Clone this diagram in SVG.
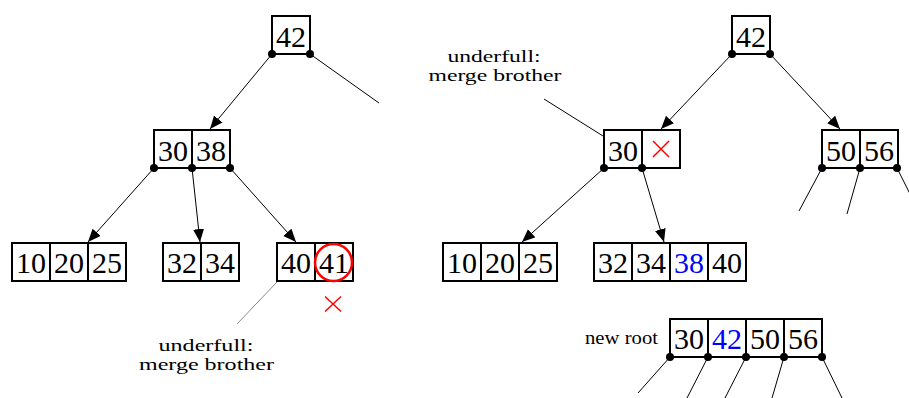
<svg xmlns="http://www.w3.org/2000/svg" width="909" height="398" viewBox="0 0 909 398">
<style>
.cell{fill:#fff;stroke:#000;stroke-width:2}
.edge{stroke:#000;stroke-width:1;fill:none}
.arr{marker-end:url(#ah)}
.dot{fill:#000}
.red{stroke:#ff0000;stroke-width:1.5;fill:none}
</style>
<defs>
<marker id="ah" markerUnits="userSpaceOnUse" markerWidth="14" markerHeight="12" refX="13" refY="5.5" orient="auto">
<path d="M0,0 L13,5.5 L0,11 Z" fill="#000"/>
</marker>
</defs>
<rect width="909" height="398" fill="#fff"/>

<g id="connectors">
<line class="edge arr" x1="272" y1="54" x2="210" y2="129"/>
<line class="edge" x1="310" y1="54" x2="379" y2="103"/>
<line class="edge arr" x1="154" y1="168" x2="88" y2="242"/>
<line class="edge arr" x1="192" y1="168" x2="200" y2="242"/>
<line class="edge arr" x1="230" y1="168" x2="296" y2="242"/>
<line x1="277" y1="282" x2="237" y2="324" stroke="#888" stroke-width="1"/>
<line class="edge arr" x1="732" y1="54" x2="661" y2="129"/>
<line class="edge arr" x1="770" y1="54" x2="840" y2="129"/>
<line class="edge arr" x1="604" y1="168" x2="522" y2="242"/>
<line class="edge arr" x1="642" y1="168" x2="664" y2="242"/>
<line class="edge" x1="544" y1="99" x2="603" y2="136"/>
<line class="edge" x1="822" y1="168" x2="799" y2="211"/>
<line class="edge" x1="860" y1="168" x2="847" y2="214"/>
<line class="edge" x1="897" y1="168" x2="912" y2="198"/>
<line class="edge" x1="670" y1="357" x2="638" y2="393"/>
<line class="edge" x1="708" y1="357" x2="687" y2="398"/>
<line class="edge" x1="746" y1="357" x2="725" y2="398"/>
<line class="edge" x1="784" y1="357" x2="772" y2="398"/>
<line class="edge" x1="822" y1="357" x2="842" y2="398"/>
</g>

<g id="L-root">
<rect class="cell" x="272" y="16" width="38" height="38"/>
<text font-family="Liberation Serif" font-size="30" text-anchor="middle" x="291" y="47">42</text>
<circle class="dot" cx="272" cy="54" r="4"/><circle class="dot" cx="310" cy="54" r="4"/>
</g>

<g id="L-30-38">
<rect class="cell" x="154" y="130" width="38" height="38"/>
<rect class="cell" x="192" y="130" width="38" height="38"/>
<text font-family="Liberation Serif" font-size="30" text-anchor="middle" x="173" y="161">30</text>
<text font-family="Liberation Serif" font-size="30" text-anchor="middle" x="211" y="161">38</text>
<circle class="dot" cx="154" cy="168" r="4"/><circle class="dot" cx="192" cy="168" r="4"/><circle class="dot" cx="230" cy="168" r="4"/>
</g>

<g id="L-10-20-25">
<rect class="cell" x="12" y="243" width="38" height="38"/>
<rect class="cell" x="50" y="243" width="38" height="38"/>
<rect class="cell" x="88" y="243" width="38" height="38"/>
<text font-family="Liberation Serif" font-size="30" text-anchor="middle" x="31" y="273">10</text>
<text font-family="Liberation Serif" font-size="30" text-anchor="middle" x="69" y="273">20</text>
<text font-family="Liberation Serif" font-size="30" text-anchor="middle" x="107" y="273">25</text>
</g>

<g id="L-32-34">
<rect class="cell" x="163" y="243" width="38" height="38"/>
<rect class="cell" x="201" y="243" width="38" height="38"/>
<text font-family="Liberation Serif" font-size="30" text-anchor="middle" x="182" y="273">32</text>
<text font-family="Liberation Serif" font-size="30" text-anchor="middle" x="220" y="273">34</text>
</g>

<g id="L-40-41">
<rect class="cell" x="277" y="243" width="38" height="38"/>
<rect class="cell" x="315" y="243" width="38" height="38"/>
<text font-family="Liberation Serif" font-size="30" text-anchor="middle" x="296" y="273">40</text>
<text font-family="Liberation Serif" font-size="30" text-anchor="middle" x="334" y="273">41</text>
<circle cx="333.5" cy="262.5" r="18.5" stroke="#ff0000" stroke-width="2.5" fill="none"/>
<path class="red" d="M325,296.5 L341,311.5 M341,296.5 L325,311.5"/>
</g>

<g id="L-label">
<text font-family="Liberation Serif" font-size="17" text-anchor="middle" x="206" y="350.5" textLength="95" lengthAdjust="spacingAndGlyphs">underfull:</text>
<text font-family="Liberation Serif" font-size="17" text-anchor="middle" x="206.5" y="369.5" textLength="135" lengthAdjust="spacingAndGlyphs">merge brother</text>
</g>

<g id="R-root">
<rect class="cell" x="732" y="16" width="38" height="38"/>
<text font-family="Liberation Serif" font-size="30" text-anchor="middle" x="751" y="47">42</text>
<circle class="dot" cx="732" cy="54" r="4"/><circle class="dot" cx="770" cy="54" r="4"/>
</g>

<g id="R-label">
<text font-family="Liberation Serif" font-size="17" text-anchor="middle" x="494" y="61.5" textLength="93" lengthAdjust="spacingAndGlyphs">underfull:</text>
<text font-family="Liberation Serif" font-size="17" text-anchor="middle" x="495" y="80.5" textLength="133" lengthAdjust="spacingAndGlyphs">merge brother</text>
</g>

<g id="R-30-x">
<rect class="cell" x="604" y="130" width="38" height="38"/>
<rect class="cell" x="642" y="130" width="38" height="38"/>
<text font-family="Liberation Serif" font-size="30" text-anchor="middle" x="623" y="161">30</text>
<path class="red" d="M653,141 L669,157 M669,141 L653,157"/>
<circle class="dot" cx="604" cy="168" r="4"/><circle class="dot" cx="642" cy="168" r="4"/>
</g>

<g id="R-50-56">
<rect class="cell" x="822" y="130" width="38" height="38"/>
<rect class="cell" x="860" y="130" width="38" height="38"/>
<text font-family="Liberation Serif" font-size="30" text-anchor="middle" x="841" y="161">50</text>
<text font-family="Liberation Serif" font-size="30" text-anchor="middle" x="879" y="161">56</text>
<circle class="dot" cx="822" cy="168" r="4"/><circle class="dot" cx="860" cy="168" r="4"/><circle class="dot" cx="897" cy="168" r="4"/>
</g>

<g id="R-10-20-25">
<rect class="cell" x="443" y="243" width="38" height="38"/>
<rect class="cell" x="481" y="243" width="38" height="38"/>
<rect class="cell" x="519" y="243" width="38" height="38"/>
<text font-family="Liberation Serif" font-size="30" text-anchor="middle" x="462" y="273">10</text>
<text font-family="Liberation Serif" font-size="30" text-anchor="middle" x="500" y="273">20</text>
<text font-family="Liberation Serif" font-size="30" text-anchor="middle" x="538" y="273">25</text>
</g>

<g id="R-32-34-38-40">
<rect class="cell" x="594" y="243" width="38" height="38"/>
<rect class="cell" x="632" y="243" width="38" height="38"/>
<rect class="cell" x="670" y="243" width="38" height="38"/>
<rect class="cell" x="708" y="243" width="38" height="38"/>
<text font-family="Liberation Serif" font-size="30" text-anchor="middle" x="613" y="273">32</text>
<text font-family="Liberation Serif" font-size="30" text-anchor="middle" x="651" y="273">34</text>
<text font-family="Liberation Serif" font-size="30" text-anchor="middle" x="689" y="273" fill="#0000ff">38</text>
<text font-family="Liberation Serif" font-size="30" text-anchor="middle" x="727" y="273">40</text>
</g>

<g id="new-root">
<text font-family="Liberation Serif" font-size="18" text-anchor="middle" x="621.5" y="344" textLength="73" lengthAdjust="spacingAndGlyphs">new root</text>
<rect class="cell" x="670" y="319" width="38" height="38"/>
<rect class="cell" x="708" y="319" width="38" height="38"/>
<rect class="cell" x="746" y="319" width="38" height="38"/>
<rect class="cell" x="784" y="319" width="38" height="38"/>
<text font-family="Liberation Serif" font-size="30" text-anchor="middle" x="689" y="349">30</text>
<text font-family="Liberation Serif" font-size="30" text-anchor="middle" x="727" y="349" fill="#0000ff">42</text>
<text font-family="Liberation Serif" font-size="30" text-anchor="middle" x="765" y="349">50</text>
<text font-family="Liberation Serif" font-size="30" text-anchor="middle" x="803" y="349">56</text>
<circle class="dot" cx="670" cy="357" r="4"/><circle class="dot" cx="708" cy="357" r="4"/><circle class="dot" cx="746" cy="357" r="4"/><circle class="dot" cx="784" cy="357" r="4"/><circle class="dot" cx="822" cy="357" r="4"/>
</g>
</svg>
